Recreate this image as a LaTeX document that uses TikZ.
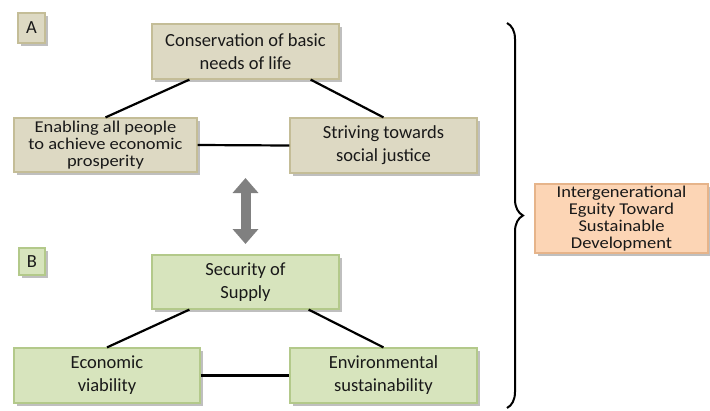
\documentclass[tikz,border=0pt]{standalone}
\usepackage{fontspec}
\setmainfont{Carlito}
\newfontfamily\widefont[FakeStretch=1.12]{Carlito}
\usetikzlibrary{shadows,arrows.meta,decorations.pathreplacing}
\definecolor{tanfill}{HTML}{DDD9C3}
\definecolor{tanline}{HTML}{C4BD97}
\definecolor{greenfill}{HTML}{D7E4BD}
\definecolor{greenline}{HTML}{B3C98A}
\definecolor{peachfill}{HTML}{FCD5B5}
\definecolor{peachline}{HTML}{E6B48A}
\begin{document}
\begin{tikzpicture} [x=1pt, y=-1pt,
    every node/.style = {shape=rectangle, draw, align=center, text=black!90,
        font=\fontsize{18.5}{23}\selectfont, inner sep=0pt,
        drop shadow={shadow xshift=2.5pt, shadow yshift=-2.5pt, opacity=0.5}},
    tanbox/.style = {fill=tanfill, draw=tanline, line width=1.2pt},
    greenbox/.style = {fill=greenfill, draw=greenline, line width=1.2pt},
    tight/.style = {font=\widefont\fontsize{16.5}{17}\selectfont},
    link/.style = {draw=black, line width=2.2pt}]
        \useasboundingbox (0,0) rectangle (710,410);
        % block A
        \node [tanbox, minimum width=27pt, minimum height=30pt] (a) at (31.5,28) {A};
        \node [tanbox, minimum width=187pt, minimum height=55pt] (cons) at (245.5,51.5) {Conservation of basic\\needs of life};
        \node [tanbox, tight, minimum width=183pt, minimum height=54pt] (enab) at (105.5,145) {Enabling all people\\to achieve economic\\prosperity};
        \node [tanbox, minimum width=187pt, minimum height=55pt] (striv) at (383.5,145.5) {Striving towards\\social justice};
        % block B
        \node [greenbox, minimum width=26pt, minimum height=27pt] (b) at (32,261.5) {B};
        \node [greenbox, minimum width=187pt, minimum height=54pt] (sec) at (245.5,282) {Security of\\Supply};
        \node [greenbox, minimum width=186pt, minimum height=55pt] (econ) at (107,375.5) {Economic\\viability};
        \node [greenbox, minimum width=187pt, minimum height=55pt] (env) at (383.5,375.5) {Environmental\\sustainability};
        % result
        \node [tight, fill=peachfill, draw=peachline, line width=1.2pt, minimum width=173pt, minimum height=69pt] (ieq) at (621.5,218.5) {Intergenerational\\Eguity Toward\\Sustainable\\Development};

        \draw [link] ([xshift=38pt]cons.south west) -- (enab.north);
        \draw [link] ([xshift=-29pt]cons.south east) -- (striv.north);
        \draw [link] (enab.east) -- (striv.west);
        \draw [link] ([xshift=38pt]sec.south west) -- (econ.north);
        \draw [link] ([xshift=-31pt]sec.south east) -- (env.north);
        \draw [link] (econ.east) -- (env.west);

        \coordinate (arrtop) at (245.5,178);
        \coordinate (arrbot) at (245.5,244);
        \draw [line width=10pt, color=black!50, {Triangle[length=15pt,width=25pt]}-{Triangle[length=15pt,width=25pt]}] (arrtop) -- (arrbot);

        \coordinate (bracetop) at (507,23);
        \coordinate (bracebot) at (507,408);
        \draw [line width=2pt, decorate, decoration={brace, amplitude=16pt}] (bracetop) -- (bracebot);
    \end{tikzpicture}
\end{document}
